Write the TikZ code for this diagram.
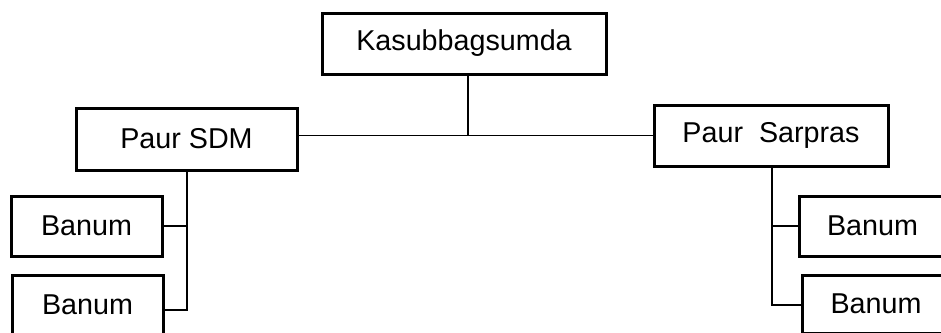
\documentclass[tikz,border=0pt]{standalone}
\usepackage{fontspec}
\setmainfont{Liberation Sans}
\begin{document}
\begin{tikzpicture}[x=1pt,y=-1pt,
  orgbox/.style={draw=black,line width=3pt,inner sep=0pt,fill=white,
    font=\fontsize{28.7}{34}\selectfont},
  link/.style={draw=black,line width=1.3pt}]
\useasboundingbox (0,0) rectangle (941,332);
\clip (0,0) rectangle (941,332);
\fill[white] (0,0) rectangle (941,332);
\node[orgbox,minimum width=284pt,minimum height=61pt] (k) at (464,43.5) {Kasubbagsumda};
\node[orgbox,minimum width=221pt,minimum height=62pt] (sdm) at (186.5,139) {Paur SDM};
\node[orgbox,minimum width=234pt,minimum height=61pt] (sar) at (771,135.5) {Paur\ \ Sarpras};
\node[orgbox,minimum width=151pt,minimum height=60pt] (bl1) at (86.5,226) {Banum};
\node[orgbox,minimum width=151pt,minimum height=60pt] (bl2) at (87.5,305) {Banum};
\node[orgbox,minimum width=147pt,minimum height=60pt] (br1) at (872.5,226) {Banum};
\node[orgbox,minimum width=148pt,minimum height=58pt] (br2) at (876,304) {Banum};
\coordinate (j) at (468,135.5);
\draw[link] (k.south -| j) -- (j);
\draw[link] (sdm.east |- j) -- (sar.west |- j);
\coordinate (sl) at (187,310);
\draw[link] (sdm.south -| sl) -- (sl) -- (bl2.east |- sl);
\draw[link] (bl1.east) -- (bl1.east -| sl);
\coordinate (sr) at (772,305);
\draw[link] (sar.south -| sr) -- (sr) -- (br2.west |- sr);
\draw[link] (br1.west) -- (br1.west -| sr);
\end{tikzpicture}
\end{document}
